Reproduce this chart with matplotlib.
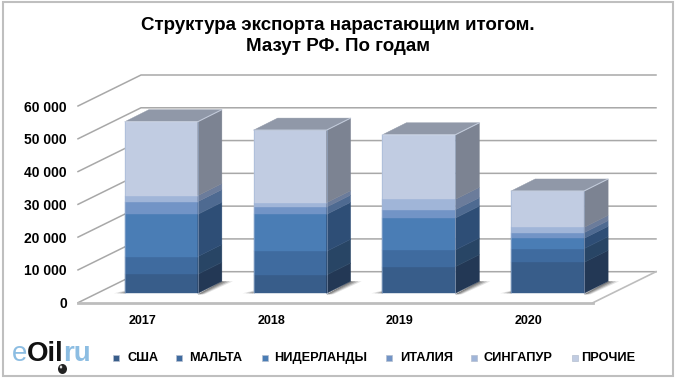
import matplotlib
matplotlib.use('Agg')
import matplotlib.pyplot as plt
from matplotlib.patches import Polygon, Rectangle, Ellipse

plt.rcParams['font.family'] = ['Liberation Sans', 'DejaVu Sans']

years = ['2017', '2018', '2019', '2020']
countries = ['США', 'МАЛЬТА', 'НИДЕРЛАНДЫ', 'ИТАЛИЯ', 'СИНГАПУР', 'ПРОЧИЕ']
usa = [5800, 5590, 8130, 9450]
malta = [5400, 7210, 5080, 4170]
netherlands = [12900, 11280, 9750, 3150]
italy = [3860, 2235, 2540, 1730]
singapore = [1830, 1320, 3150, 1630]
other = [22560, 22150, 19710, 11080]
series = [usa, malta, netherlands, italy, singapore, other]

front_colors = ['#385d8a', '#3f6b9f', '#4a7db5', '#7294c6', '#a0b5d8', '#c1cce2']
side_colors = ['#233855', '#284565', '#2e4e76', '#4e6a91', '#6b7c9b', '#7c8392']
top_color = '#9098a8'
grid_color = '#a8a8a8'

# layout in pixels of the 680x384 picture
W, H = 680, 384
left, right, floor_y, top_y = 78, 593, 302.7, 106
px_x = 4 / (right - left)
px_y = 60000 / (floor_y - top_y)
wall_dx, wall_dy = 63, 31
bar_dx, bar_dy = 19, 9.4
depth_dx, depth_dy = 24, 12
half_w = 36.5

fig = plt.figure(figsize=(6.8, 3.84), dpi=100)
ax = fig.add_axes([left / W, 1 - floor_y / H, (right - left) / W, (floor_y - top_y) / H])
ax.set_xlim(-0.5, 3.5)
ax.set_ylim(0, 60000)
ax.patch.set_visible(False)
for s in ax.spines.values():
    s.set_visible(False)
ax.set_xticks(range(4))
ax.set_xticklabels(years, fontsize=9, fontweight='bold')
ax.set_yticks(range(0, 60001, 10000))
ax.set_yticklabels(['0', '10 000', '20 000', '30 000', '40 000', '50 000', '60 000'],
                   fontsize=10, fontweight='bold')
ax.tick_params(axis='x', length=0, pad=8.5)
ax.tick_params(axis='y', length=0, pad=8)


def pt(x, v, dx=0, dy=0):
    # category/value position moved back by dx, dy pixels
    return (x + dx * px_x, v + dy * px_y)


def poly(points, **kw):
    kw.setdefault('clip_on', False)
    ax.add_patch(Polygon(points, closed=True, **kw))


# walls and floor
for v in range(0, 60001, 10000):
    ax.plot(*zip(pt(-0.5, v), pt(-0.5, v, wall_dx, wall_dy), pt(3.5, v, wall_dx, wall_dy)),
            color=grid_color, lw=1.1, clip_on=False, zorder=1)
ax.plot(*zip(pt(-0.5, 0), pt(3.5, 0)), color='#bdbdbd', lw=2, clip_on=False, zorder=1)
ax.plot(*zip(pt(3.5, 0), pt(3.5, 0, wall_dx, wall_dy)), color='#bdbdbd', lw=1.2, clip_on=False, zorder=1)

# bars
for i in range(4):
    xl = i - half_w * px_x
    xr = i + half_w * px_x
    # shadow on the floor
    for grow, a in [(11, 0.15), (8, 0.25), (5, 0.3), (2, 0.35)]:
        poly([pt(xr, 0, bar_dx, bar_dy - 1),
              pt(xr, 0, bar_dx + depth_dx, bar_dy + depth_dy),
              pt(xr, 0, bar_dx + depth_dx + grow, bar_dy + depth_dy),
              pt(xr, 0, bar_dx + grow * 0.6, bar_dy - 1)],
             fc='#404040', ec='none', alpha=a, zorder=2)
        poly([pt(xl, 0, bar_dx - grow, bar_dy),
              pt(xl, 0, bar_dx, bar_dy + grow * 0.25),
              pt(xl, 0, bar_dx, bar_dy)],
             fc='#505050', ec='none', alpha=a, zorder=2)
    base = 0
    for k, vals in enumerate(series):
        v = vals[i]
        poly([pt(xl, base, bar_dx, bar_dy), pt(xr, base, bar_dx, bar_dy),
              pt(xr, base + v, bar_dx, bar_dy), pt(xl, base + v, bar_dx, bar_dy)],
             fc=front_colors[k], ec=front_colors[k], lw=0.3, zorder=3)
        poly([pt(xr, base, bar_dx, bar_dy), pt(xr, base, bar_dx + depth_dx, bar_dy + depth_dy),
              pt(xr, base + v, bar_dx + depth_dx, bar_dy + depth_dy), pt(xr, base + v, bar_dx, bar_dy)],
             fc=side_colors[k], ec=side_colors[k], lw=0.3, zorder=3)
        base += v
    poly([pt(xl, base, bar_dx, bar_dy), pt(xr, base, bar_dx, bar_dy),
          pt(xr, base, bar_dx + depth_dx, bar_dy + depth_dy), pt(xl, base, bar_dx + depth_dx, bar_dy + depth_dy)],
         fc=top_color, ec=top_color, lw=0.3, zorder=3)
    # light bevel along the edges
    ax.plot(*zip(pt(xl, base, bar_dx, bar_dy), pt(xr, base, bar_dx, bar_dy), pt(xr, base, bar_dx + depth_dx, bar_dy + depth_dy)),
            color='#d5deee', lw=0.8, alpha=0.7, clip_on=False, zorder=4)
    ax.plot(*zip(pt(xr, 0, bar_dx, bar_dy), pt(xr, base, bar_dx, bar_dy)),
            color='#9fb4d4', lw=0.7, alpha=0.5, clip_on=False, zorder=4)
    ax.plot(*zip(pt(xl, 0, bar_dx, bar_dy), pt(xl, base, bar_dx, bar_dy)),
            color='#9fb4d4', lw=0.7, alpha=0.5, clip_on=False, zorder=4)

# outer frame
fig.add_artist(Rectangle((3 / W, 1 - 376 / H), 670 / W, 374 / H, transform=fig.transFigure,
                         fc='none', ec='#bfbfbf', lw=1.5))

fig.text(338 / W, 1 - 36 / H, 'Структура экспорта нарастающим итогом.\nМазут РФ. По годам',
         ha='center', va='center', fontsize=13.5, fontweight='bold', linespacing=1.25)

# legend
marker_x = [116, 179, 265, 389, 474, 575]
text_x = [128, 189, 274, 400, 484, 581]
for k, name in enumerate(countries):
    fig.add_artist(Rectangle(((marker_x[k] - 3) / W, 1 - 361 / H), 6 / W, 6 / H, transform=fig.transFigure,
                             fc=front_colors[k], ec='#b5bfd0', lw=0.5))
    fig.text(text_x[k] / W, 1 - 358 / H, name, ha='left', va='center', fontsize=9.2, fontweight='bold')

# logo
fig.text(12 / W, 1 - 361 / H, 'e', fontsize=20, color='#8cbde2', ha='left', va='baseline')
fig.text(27 / W, 1 - 361 / H, 'Oil', fontsize=20, fontweight='bold', color='#111111', ha='left', va='baseline')
fig.text(63 / W, 1 - 361 / H, 'ru', fontsize=20, fontweight='bold', color='#8cbde2', ha='left', va='baseline')
fig.add_artist(Ellipse((62.5 / W, 1 - 369 / H), 9 / W, 10 / H, transform=fig.transFigure, fc='#222222', ec='none'))
fig.add_artist(Ellipse((61 / W, 1 - 367 / H), 2.5 / W, 3 / H, transform=fig.transFigure, fc='#dddddd', ec='none'))

fig.savefig('out.png', dpi=100, facecolor='white')
